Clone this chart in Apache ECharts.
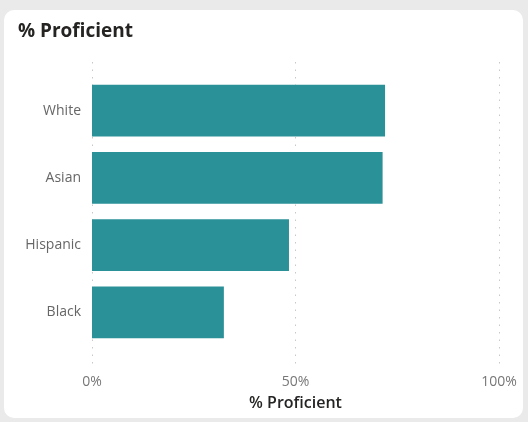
<!DOCTYPE html>
<html>
<head>
<meta charset="utf-8">
<script src="https://cdn.jsdelivr.net/npm/echarts@6/dist/echarts.min.js"></script>
<style>
html,body{margin:0;padding:0;background:#eaeaea;width:528px;height:422px;overflow:hidden;}
#card{position:absolute;left:4px;top:10px;width:519px;height:408px;background:#fff;border-radius:10px;}
#chart{position:absolute;left:0;top:0;width:528px;height:422px;}
</style>
</head>
<body>
<div id="card"></div>
<div id="chart"></div>
<script>
const categories = ["White", "Asian", "Hispanic", "Black"];
const proficient = [72.0, 71.4, 48.4, 32.4];
const tickValues = [0, 50, 100];

const chart = echarts.init(document.getElementById('chart'), null, {renderer: 'canvas'});
const font = '"Open Sans", "Noto Sans", sans-serif';
chart.setOption({
  backgroundColor: 'transparent',
  animation: false,
  title: {
    text: '% Proficient',
    left: 13, top: 17,
    textStyle: {fontFamily: font, fontSize: 19, fontWeight: 'bold', color: '#252423'}
  },
  grid: [
    {left: 92, right: 29, top: 62, bottom: 56},
    {left: 92, right: 29, top: 77, height: 269}
  ],
  xAxis: [
    {
      type: 'value', gridIndex: 0, min: tickValues[0], max: tickValues[tickValues.length - 1], interval: 50,
      axisLine: {show: false}, axisTick: {show: false},
      splitLine: {show: true, lineStyle: {color: '#c8c8c8', type: [1.5, 6], width: 1}},
      axisLabel: {formatter: '{value}%', color: '#777', fontSize: 14, fontFamily: font, margin: 9},
      name: '% Proficient', nameLocation: 'middle', nameGap: 29,
      nameTextStyle: {color: '#252423', fontSize: 16, fontWeight: 600, fontFamily: font}
    },
    {type: 'value', gridIndex: 1, min: 0, max: 100, show: false}
  ],
  yAxis: [
    {type: 'value', gridIndex: 0, show: false},
    {
      type: 'category', gridIndex: 1, data: categories, inverse: true,
      axisLine: {show: false}, axisTick: {show: false}, splitLine: {show: false},
      axisLabel: {color: '#666', fontSize: 14, fontFamily: font, margin: 11}
    }
  ],
  series: [{
    type: 'bar', xAxisIndex: 1, yAxisIndex: 1, data: proficient,
    barCategoryGap: '23%',
    itemStyle: {color: '#2a9198'}
  }]
});
</script>
</body>
</html>
